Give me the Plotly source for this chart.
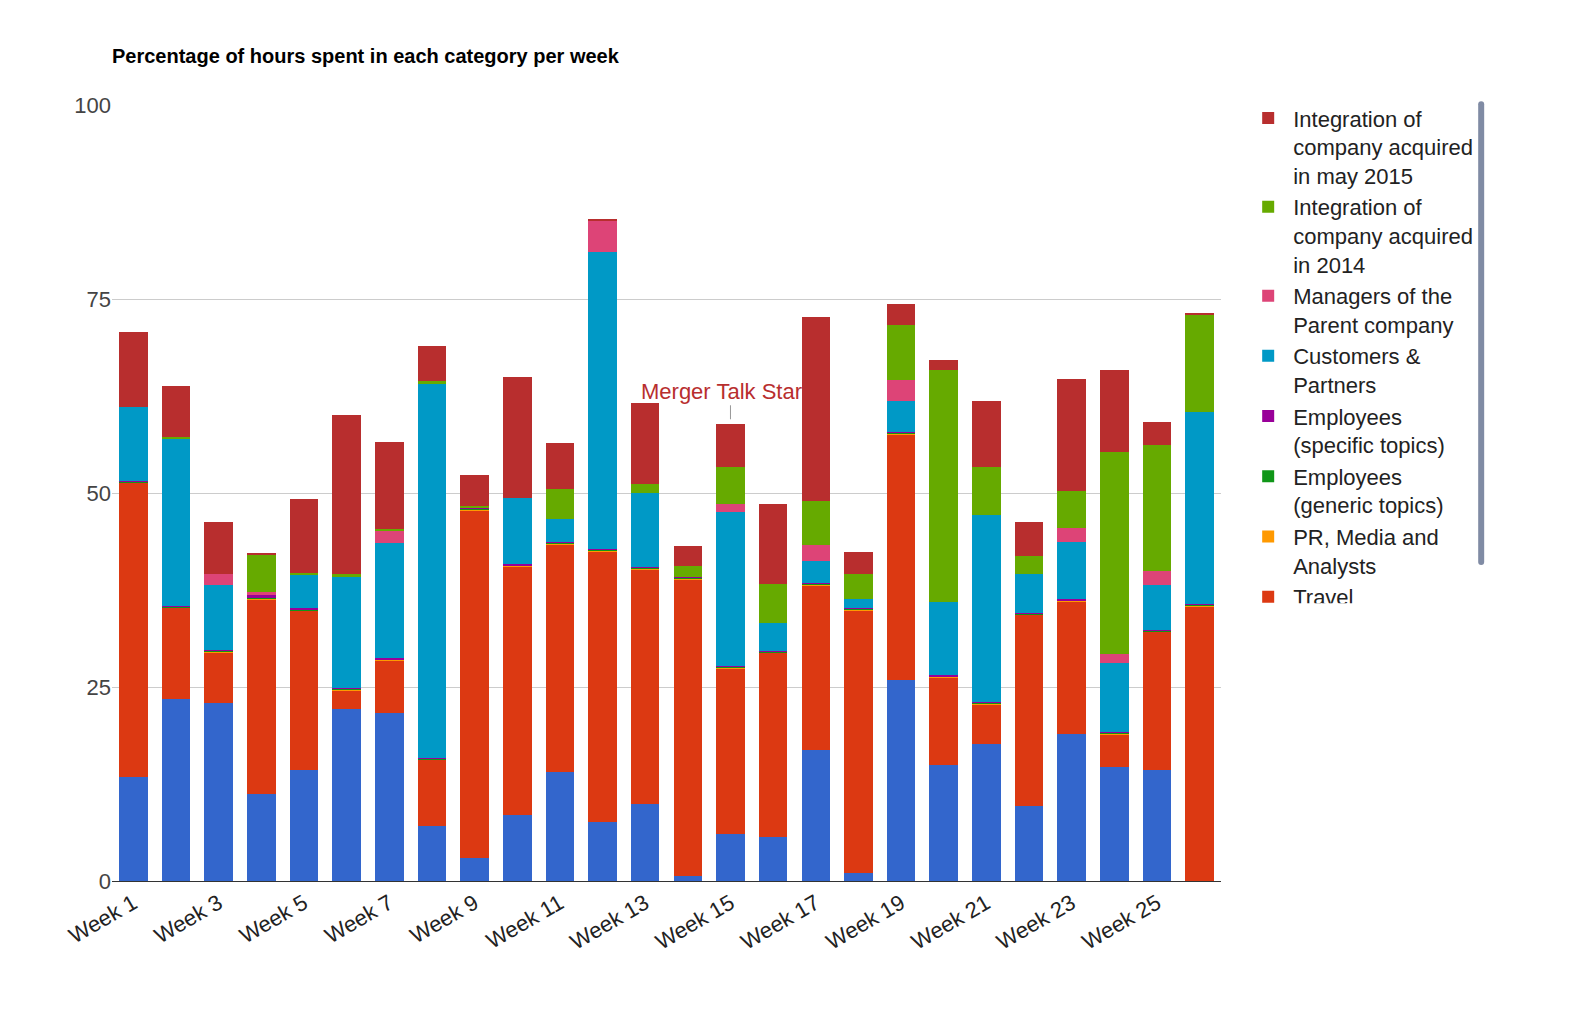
import plotly.graph_objects as go

weeks = ["Week %d" % i for i in range(1, 27)]

personal = [13.4, 23.5, 23.0, 11.2, 14.3, 22.2, 21.6, 7.1, 3.0, 8.5, 14.0, 7.6, 9.9,
            0.6, 6.0, 5.7, 16.9, 1.0, 25.9, 14.9, 17.7, 9.7, 18.9, 14.7, 14.3, 0.0]
travel = [37.9, 11.7, 6.5, 25.1, 20.5, 2.4, 6.8, 8.5, 44.8, 32.0, 29.4, 34.9, 30.3,
          38.3, 21.4, 23.7, 21.2, 33.9, 31.7, 11.3, 5.1, 24.6, 17.1, 4.2, 17.8, 35.4]
pr_media = [0.1] * 26
emp_generic = [0.1] * 26
emp_specific = [0.1, 0.1, 0.1, 0.3, 0.2, 0.1, 0.1, 0.1, 0.1, 0.1, 0.1, 0.1, 0.1,
                0.1, 0.1, 0.1, 0.1, 0.1, 0.1, 0.1, 0.1, 0.1, 0.1, 0.1, 0.1, 0.1]
customers = [9.5, 21.4, 8.3, 0.0, 4.3, 14.4, 14.9, 48.2, 0.0, 8.6, 3.0, 38.2, 9.5,
             0.0, 19.8, 3.6, 2.9, 1.2, 3.9, 9.5, 24.1, 4.9, 7.4, 8.9, 5.7, 24.8]
managers = [0.0, 0.0, 1.4, 0.5, 0.0, 0.0, 1.5, 0.0, 0.0, 0.0, 0.0, 4.0, 0.0,
            0.0, 1.1, 0.0, 2.0, 0.0, 2.8, 0.0, 0.0, 0.0, 1.8, 1.1, 1.8, 0.0]
int_2014 = [0.0, 0.3, 0.0, 4.8, 0.2, 0.2, 0.3, 0.3, 0.2, 0.0, 3.8, 0.0, 1.2,
            1.4, 4.8, 5.0, 5.7, 3.2, 7.1, 29.8, 6.2, 2.4, 4.8, 26.1, 16.3, 12.4]
int_2015 = [9.7, 6.6, 6.8, 0.2, 9.5, 20.5, 11.2, 4.5, 4.0, 15.6, 6.0, 0.3, 10.4,
            2.6, 5.5, 10.3, 23.7, 2.8, 2.6, 1.4, 8.4, 4.3, 14.4, 10.6, 3.0, 0.3]

series = [
    ("Personal activities", personal, "#3366cc"),
    ("Travel", travel, "#dc3912"),
    ("PR, Media and<br>Analysts", pr_media, "#ff9900"),
    ("Employees<br>(generic topics)", emp_generic, "#109618"),
    ("Employees<br>(specific topics)", emp_specific, "#990099"),
    ("Customers &<br>Partners", customers, "#0099c6"),
    ("Managers of the<br>Parent company", managers, "#dd4477"),
    ("Integration of<br>company acquired<br>in 2014", int_2014, "#66aa00"),
    ("Integration of<br>company acquired<br>in may 2015", int_2015, "#b82e2e"),
]

fig = go.Figure()
for name, vals, color in series:
    fig.add_trace(go.Bar(x=weeks, y=vals, name=name, marker_color=color,
                         marker_line_width=0))

fig.add_annotation(x="Week 15", y=59.5, text="Merger Talk Starts", showarrow=True,
                   ax=0, ay=-28, arrowhead=0, arrowcolor="#999999", arrowwidth=1,
                   font=dict(color="#b82e2e", size=22))

fig.update_layout(
    barmode="stack",
    bargap=0.33,
    width=1570, height=1012,
    margin=dict(l=104, r=357, t=97, b=139),
    plot_bgcolor="white", paper_bgcolor="white",
    font=dict(family="Liberation Sans, Arial", size=22, color="#222222"),
    title=dict(text="<b>Percentage of hours spent in each category per week</b>",
               x=104 / 1570, xanchor="left", y=0.953, yanchor="middle",
               font=dict(size=20, color="#000000")),
    legend=dict(traceorder="reversed", x=1.02, xanchor="left", y=1.01, yanchor="top",
                font=dict(size=22, color="#222222"), itemwidth=40, tracegroupgap=4,
                valign="top"),
)
fig.update_xaxes(type="category", tickvals=weeks[::2], tickangle=-30,
                 showline=True, linecolor="#333333", ticks="", tickfont=dict(size=22))
fig.update_yaxes(range=[0, 100], tickvals=[0, 25, 50, 75, 100], gridcolor="#cccccc",
                 zeroline=False, tickfont=dict(size=22, color="#444444"))

fig.write_html("out.html")
